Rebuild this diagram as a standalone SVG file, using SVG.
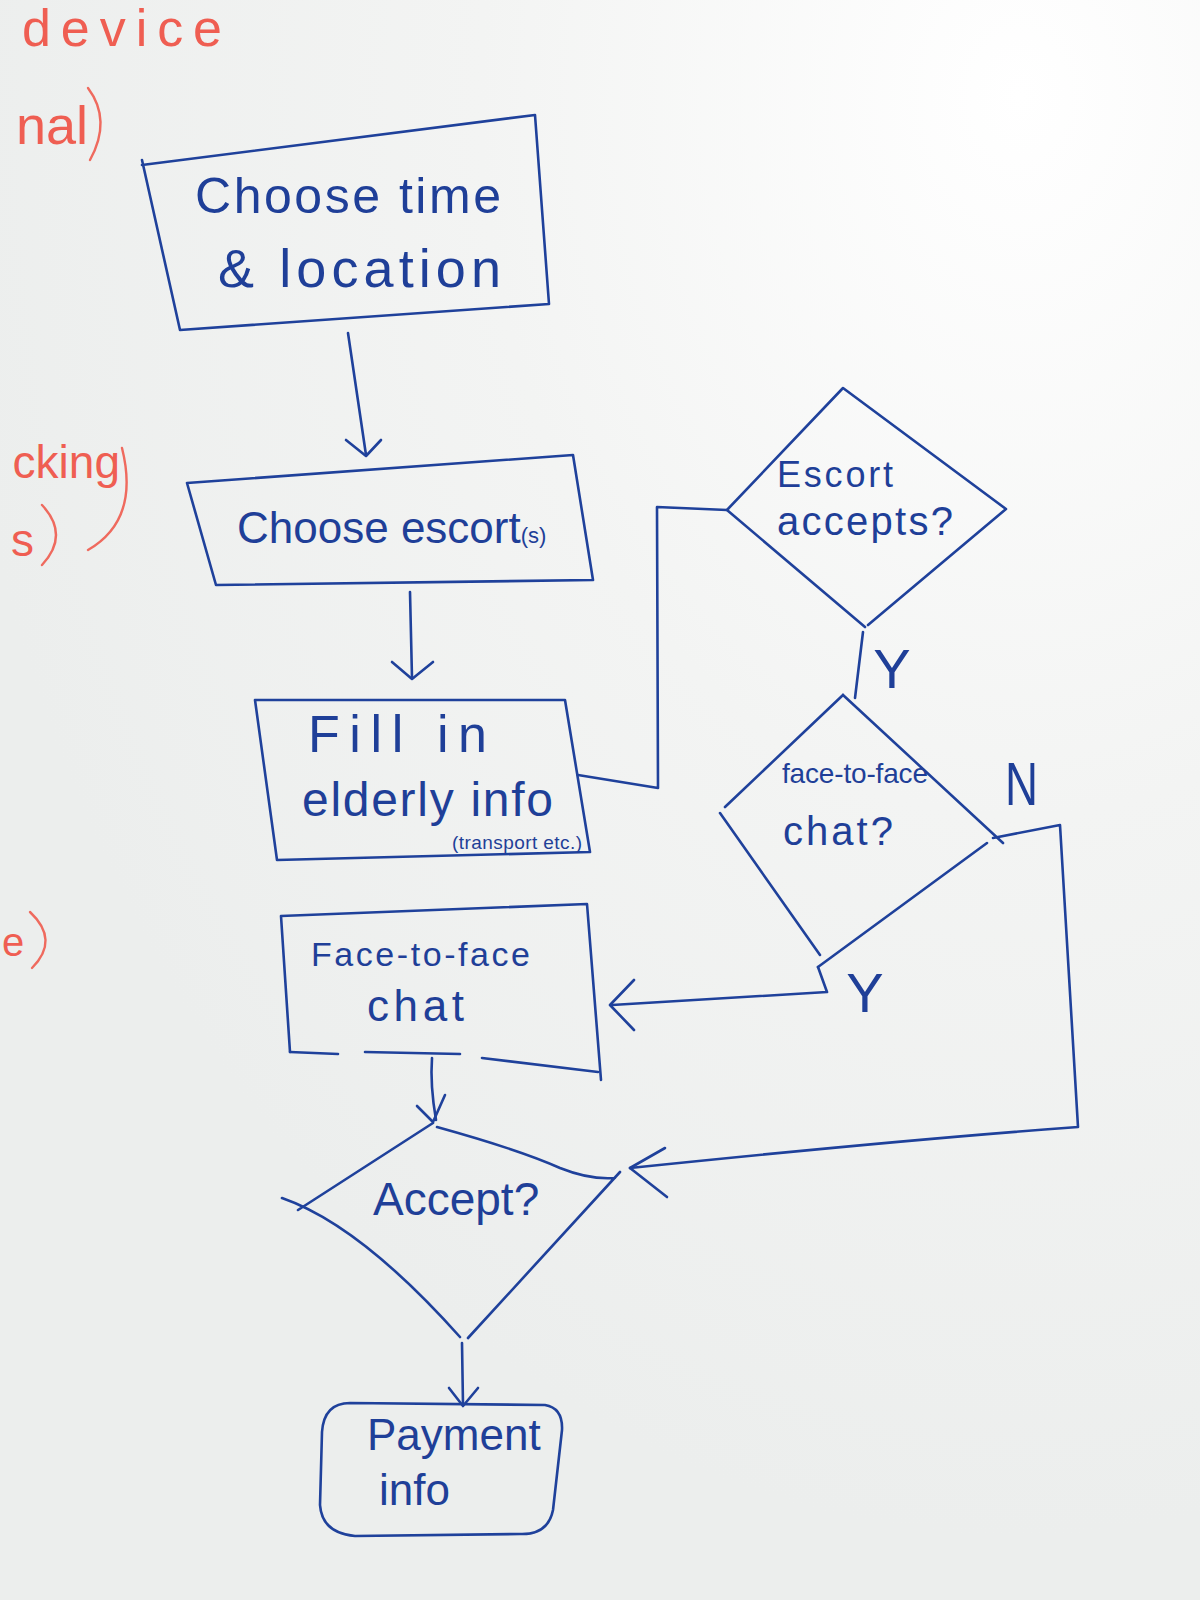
<svg xmlns="http://www.w3.org/2000/svg" width="1200" height="1600" viewBox="0 0 1200 1600">
<defs>
<radialGradient id="bg" cx="0.85" cy="0.06" r="0.9">
<stop offset="0" stop-color="#ffffff"/>
<stop offset="0.5" stop-color="#f3f4f3"/>
<stop offset="1" stop-color="#eceeed"/>
</radialGradient>
<style>
.ink{fill:none;stroke:#1f419b;stroke-width:2.6;stroke-linecap:round;stroke-linejoin:round}
.t{fill:#1f3f98;font-family:"Liberation Sans","DejaVu Sans",sans-serif}
.red{fill:#ef5e52;font-family:"Liberation Sans","DejaVu Sans",sans-serif}
.redl{fill:none;stroke:#ef6a5e;stroke-width:2.4;stroke-linecap:round}
</style>
</defs>
<rect width="1200" height="1600" fill="url(#bg)"/>

<g id="margin-notes">
<text class="red" x="222" y="46" font-size="52" text-anchor="end" textLength="200">device</text>
<text class="red" x="88" y="144" font-size="54" text-anchor="end">nal</text>
<path class="redl" d="M88,88 Q112,120 90,160"/>
<text class="red" x="120" y="478" font-size="46" text-anchor="end">cking</text>
<path class="redl" d="M122,448 Q140,520 88,550"/>
<text class="red" x="34" y="556" font-size="46" text-anchor="end">s</text>
<path class="redl" d="M42,505 Q70,535 42,565"/>
<text class="red" x="2" y="956" font-size="40">e</text>
<path class="redl" d="M30,912 Q60,940 32,968"/>
</g>

<g id="connectors">
<path class="ink" d="M348,333 L366,455"/>
<path class="ink" d="M346,440 L366,456 L381,440"/>
<path class="ink" d="M410,592 L412,678"/>
<path class="ink" d="M392,662 L412,679 L433,662"/>
<path class="ink" d="M578,775 L658,788 L657,507 L727,510"/>
<path class="ink" d="M863,632 L855,698"/>
<path class="ink" d="M818,967 L827,992 L612,1005"/>
<path class="ink" d="M634,980 L610,1005 L634,1030"/>
<path class="ink" d="M432,1058 Q430,1085 436,1120"/>
<path class="ink" d="M417,1106 L433,1122 L445,1095"/>
<path class="ink" d="M993,838 L1060,825 L1078,1127 Q900,1140 630,1168"/>
<path class="ink" d="M665,1148 L630,1168 L667,1197"/>
<path class="ink" d="M462,1343 L463,1405"/>
<path class="ink" d="M449,1388 L463,1406 L478,1388"/>
<text class="t" x="1005" y="805" font-size="62" textLength="33" lengthAdjust="spacingAndGlyphs">N</text>
<text class="t" x="892" y="688" font-size="56" text-anchor="middle">Y</text>
<text class="t" x="865" y="1012" font-size="56" text-anchor="middle">Y</text>
</g>

<g id="choose-time">
<path class="ink" d="M142,165 L535,115 L549,304 M180,330 L549,304 M142,160 L180,330"/>
<text class="t" x="195" y="213" font-size="50" textLength="306">Choose time</text>
<text class="t" x="218" y="287" font-size="54" textLength="283">&amp; location</text>
</g>

<g id="choose-escorts">
<path class="ink" d="M187,483 L573,455 L593,580 L216,585 L187,483"/>
<text class="t" x="237" y="543" font-size="44">Choose escort<tspan font-size="22">(s)</tspan></text>
</g>

<g id="fill-in">
<path class="ink" d="M255,700 L565,700 L590,852 L277,860 Z"/>
<text class="t" x="308" y="752" font-size="52" textLength="179">Fill in</text>
<text class="t" x="302" y="816" font-size="48" textLength="251">elderly info</text>
<text class="t" x="452" y="849" font-size="19" textLength="130">(transport etc.)</text>
</g>

<g id="escort-accepts">
<path class="ink" d="M727,510 L843,388 L1006,509 L868,625 M727,510 L865,627"/>
<text class="t" x="777" y="487" font-size="36" textLength="116">Escort</text>
<text class="t" x="777" y="535" font-size="40" textLength="176">accepts?</text>
</g>

<g id="face-to-face-chat-decision">
<path class="ink" d="M843,695 L725,807 M720,813 L820,955 M843,695 L1003,843 M987,843 L818,967"/>
<text class="t" x="782" y="783" font-size="28" textLength="146">face-to-face</text>
<text class="t" x="783" y="845" font-size="40" textLength="110">chat?</text>
</g>

<g id="face-to-face-chat">
<path class="ink" d="M281,916 L587,904 L601,1080 M281,916 L290,1052"/>
<path class="ink" d="M290,1052 L338,1054 M365,1052 L460,1054 M482,1058 L598,1072"/>
<text class="t" x="311" y="966" font-size="34" textLength="219">Face-to-face</text>
<text class="t" x="367" y="1021" font-size="44" textLength="97">chat</text>
</g>

<g id="accept">
<path class="ink" d="M433,1123 L298,1210 M437,1127 Q520,1150 560,1168 Q590,1180 615,1178 M620,1172 L468,1338 M282,1198 Q360,1225 460,1337"/>
<text class="t" x="373" y="1215" font-size="46">Accept?</text>
</g>

<g id="payment-info">
<path class="ink" d="M350,1403 L545,1405 Q563,1408 562,1430 L553,1510 Q548,1535 520,1534 L355,1536 Q322,1533 320,1505 L322,1432 Q324,1403 350,1403 Z"/>
<text class="t" x="367" y="1450" font-size="44">Payment</text>
<text class="t" x="379" y="1505" font-size="44">info</text>
</g>
</svg>
